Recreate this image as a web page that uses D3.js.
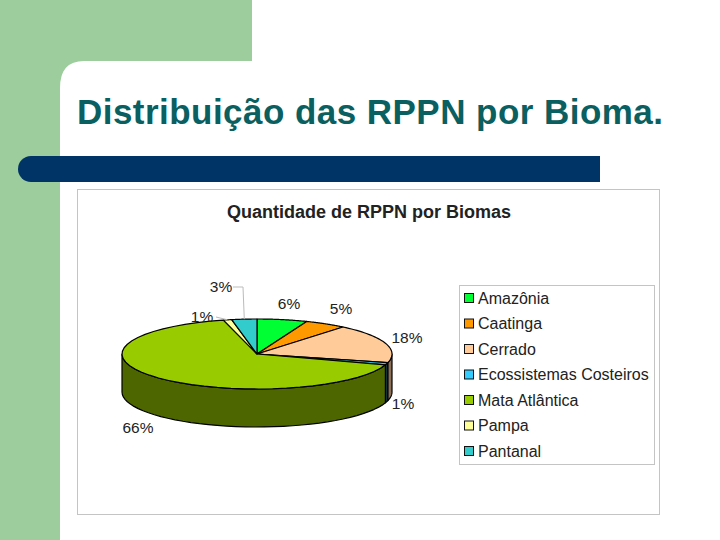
<!DOCTYPE html>
<html><head><meta charset="utf-8">
<script src="https://cdn.jsdelivr.net/npm/d3@7/dist/d3.min.js"></script>
<style>html,body{margin:0;padding:0;background:#fff}svg{display:block}text{font-family:"Liberation Sans",Arial,sans-serif}</style>
</head><body><div id="c"></div>
<script>
const categories=["Amazônia","Caatinga","Cerrado","Ecossistemas Costeiros","Mata Atlântica","Pampa","Pantanal"];
const values=[6,5,18,1,66,1,3];
const labels=["6%","5%","18%","1%","66%","1%","3%"];
const topColors=["#00ff33","#ff9900","#ffcc99","#33ccff","#99cc00","#ffff99","#33cccc"];
const sideColors=["#008019","#804d00","#8c7058","#14333f","#4d6600","#80804d","#1a6666"];
const labelPos=[[289,304],[341,309],[407,338],[403,404],[138,428],[202,317],[221,287]];
const W=720,H=540,cx=257,cy=354,rx=135,ry=35,depth=38;
const svg=d3.select("#c").append("svg").attr("width",W).attr("height",H);

// slide background
const bg=d3.path();
bg.moveTo(0,0);bg.lineTo(252,0);bg.lineTo(252,61);bg.lineTo(84,61);
bg.quadraticCurveTo(60,61,60,88);bg.lineTo(60,540);bg.lineTo(0,540);bg.closePath();
svg.append("path").attr("d",bg.toString()).attr("fill","#9dcc9d");
const bar=d3.path();
bar.moveTo(600,156);bar.lineTo(31,156);bar.arc(31,169,13,-Math.PI/2,Math.PI/2,true);bar.lineTo(600,182);bar.closePath();
svg.append("path").attr("d",bar.toString()).attr("fill","#003366");
svg.append("text").attr("x",77).attr("y",124).attr("font-size",35).attr("font-weight","bold").attr("fill","#0a6060").attr("textLength",586).attr("lengthAdjust","spacing").text("Distribuição das RPPN por Bioma.");

// chart frame
svg.append("rect").attr("x",77.5).attr("y",189.5).attr("width",582).attr("height",325).attr("fill","#fff").attr("stroke","#c4c4c4");
svg.append("text").attr("x",369).attr("y",218).attr("text-anchor","middle").attr("font-size",18).attr("font-weight","bold").attr("fill","#222").text("Quantidade de RPPN por Biomas");

// pie
const pie=d3.pie().sort(null).value(d=>d)(values);
const px=a=>cx+rx*Math.sin(a), py=a=>cy-ry*Math.cos(a);
const sampled=(a,b)=>d3.range(0,41).map(i=>a+(b-a)*i/40);
const wallG=svg.append("g"),topG=svg.append("g");
pie.forEach((s,i)=>{
  const a=Math.max(s.startAngle,Math.PI/2),b=Math.min(s.endAngle,Math.PI*1.5);
  if(b<=a)return;
  const pts=sampled(a,b);
  const front=pts.map(t=>[px(t),py(t)]);
  const back=pts.slice().reverse().map(t=>[px(t),py(t)+depth]);
  wallG.append("path").attr("d",d3.line()(front.concat(back))+"Z").attr("fill",sideColors[i]).attr("stroke","#000").attr("stroke-width",1.2).attr("stroke-linejoin","round");
});
pie.forEach((s,i)=>{
  const pts=sampled(s.startAngle,s.endAngle).map(t=>[px(t),py(t)]);
  topG.append("path").attr("d",d3.line()([[cx,cy]].concat(pts))+"Z").attr("fill",topColors[i]).attr("stroke","#000").attr("stroke-width",1.2).attr("stroke-linejoin","round");
});

// leader lines
const mid=i=>(pie[i].startAngle+pie[i].endAngle)/2;
[[6,[[px(mid(6)),py(mid(6))],[243,287],[233,287]]],[5,[[px(mid(5)),py(mid(5))],[216,317]]]].forEach(([i,p])=>{
  svg.append("path").attr("d",d3.line()(p)).attr("fill","none").attr("stroke","#bbb").attr("stroke-width",1);
});

// data labels
labels.forEach((t,i)=>svg.append("text").attr("x",labelPos[i][0]).attr("y",labelPos[i][1]).attr("dy","0.35em").attr("text-anchor","middle").attr("font-size",15.5).attr("fill","#222").text(t));

// legend
const lx=459,ly=285;
svg.append("rect").attr("x",lx+.5).attr("y",ly+.5).attr("width",195).attr("height",179).attr("fill","#fff").attr("stroke","#c4c4c4");
const ys=d3.scalePoint().domain(categories).range([298,451]);
categories.forEach((c,i)=>{
  svg.append("rect").attr("x",464.5).attr("y",ys(c)-4.5).attr("width",9).attr("height",9).attr("fill",topColors[i]).attr("stroke","#111");
  svg.append("text").attr("x",478).attr("y",ys(c)).attr("dy","0.35em").attr("font-size",16).attr("fill","#222").text(c);
});
</script></body></html>
